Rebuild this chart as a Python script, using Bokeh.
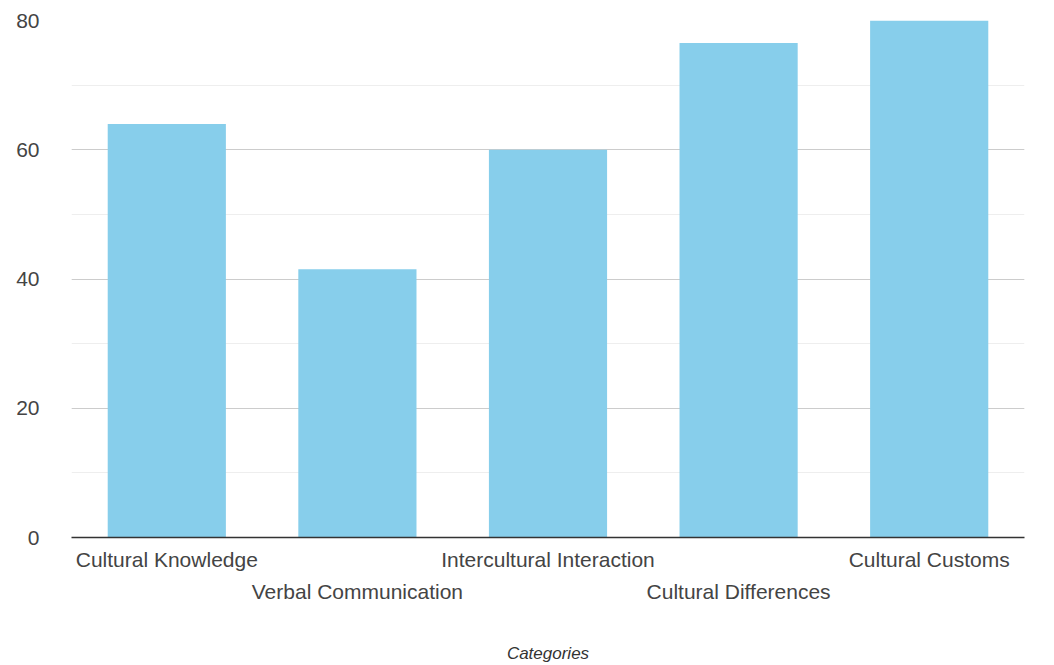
from bokeh.plotting import figure
from bokeh.models import CategoricalAxis, SingleIntervalTicker, Range1d, CustomJSTickFormatter
from bokeh.embed import file_html
from bokeh.resources import INLINE

categories = ["Cultural Knowledge", "Verbal Communication", "Intercultural Interaction",
              "Cultural Differences", "Cultural Customs"]
values = [64, 41.5, 60, 76.5, 80]
y_ticks_interval = 20

FONT = "Liberation Sans"
TXT = "#444444"
FS = "21px"

p = figure(x_range=categories, y_range=Range1d(0, 80), width=1054, height=665,
           output_backend="svg", toolbar_location=None,
           min_border_left=71, min_border_right=30, min_border_top=20, min_border_bottom=0)
p.outline_line_color = None

p.vbar(x=categories, top=values, width=0.62, fill_color="#87CEEB", line_color=None)

# y axis
p.yaxis.ticker = SingleIntervalTicker(interval=y_ticks_interval, num_minor_ticks=2)
p.yaxis.axis_line_color = None
p.yaxis.major_tick_line_color = None
p.yaxis.minor_tick_line_color = None
p.yaxis.major_label_standoff = 26
p.yaxis.major_label_text_font = FONT
p.yaxis.major_label_text_font_size = FS
p.yaxis.major_label_text_color = TXT
p.ygrid.grid_line_color = "#cccccc"
p.ygrid.minor_grid_line_color = "#eeeeee"
p.xgrid.grid_line_color = None

even_labels = [c for i, c in enumerate(categories) if i % 2 == 0]
odd_labels = [c for i, c in enumerate(categories) if i % 2 == 1]
fmt_code = "return show.includes(tick) ? tick : ' ';"

# first x axis (even labels)
xa = p.xaxis[0]
xa.axis_line_color = "#333333"
xa.axis_line_width = 1.5
xa.major_tick_line_color = None
xa.minor_tick_line_color = None
xa.major_label_standoff = 4
xa.major_label_text_font = FONT
xa.major_label_text_font_size = FS
xa.major_label_text_color = TXT
xa.formatter = CustomJSTickFormatter(args=dict(show=even_labels), code=fmt_code)

# second x axis (odd labels, staggered)
xb = CategoricalAxis()
xb.axis_line_color = None
xb.major_tick_line_color = None
xb.minor_tick_line_color = None
xb.major_label_standoff = 0
xb.major_label_text_font = FONT
xb.major_label_text_font_size = FS
xb.major_label_text_color = TXT
xb.formatter = CustomJSTickFormatter(args=dict(show=odd_labels), code=fmt_code)
xb.axis_label = "Categories"
xb.axis_label_text_font = FONT
xb.axis_label_text_font_size = "17px"
xb.axis_label_text_font_style = "italic"
xb.axis_label_text_color = "#333333"
xb.axis_label_standoff = 38
p.add_layout(xb, "below")

open("out.html", "w").write(file_html(p, INLINE))
